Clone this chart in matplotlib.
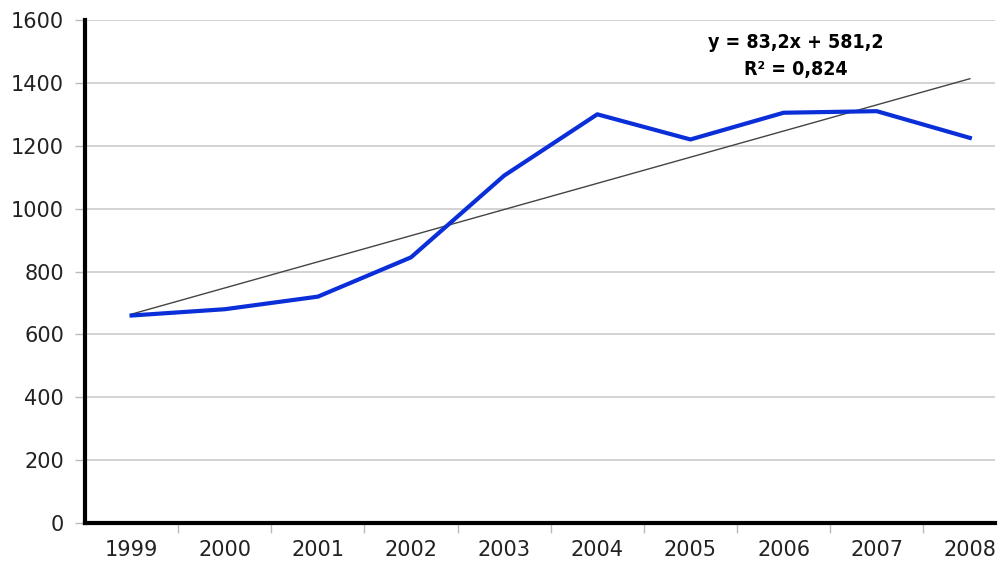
import matplotlib.pyplot as plt
import numpy as np

years = ["1999", "2000", "2001", "2002", "2003", "2004", "2005", "2006", "2007", "2008"]
values = [660, 680, 720, 845, 1105, 1300, 1220, 1305, 1310, 1225]
y_ticks = [0, 200, 400, 600, 800, 1000, 1200, 1400, 1600]
slope = 83.2
intercept = 581.2

fig = plt.figure(figsize=(10.07, 5.78), dpi=100)
ax = fig.add_axes([85 / 1007, 55 / 578, 910 / 1007, 503 / 578])

x = np.arange(len(years))
trend = slope * (x + 1) + intercept

ax.plot(x, trend, color="#444444", linewidth=1.0, zorder=2)
ax.plot(x, values, color="#0a2fd8", linewidth=3.0, zorder=3)

ax.set_xlim(-0.5, 9.27)
ax.set_ylim(0, 1600)
ax.set_yticks(y_ticks)
ax.set_yticklabels([str(v) for v in y_ticks], fontsize=15, color="#222222")
ax.yaxis.grid(True, color="#cccccc", linewidth=1.2)
ax.set_axisbelow(True)

ax.set_xticks(x)
ax.set_xticklabels(years, fontsize=15, color="#222222")
ax.tick_params(axis="x", length=0, pad=12)
ax.set_xticks(np.arange(0.5, 9, 1), minor=True)
ax.tick_params(axis="x", which="minor", length=7, color="#bbbbbb", width=1, direction="out")
ax.tick_params(axis="y", length=7, width=1, color="#bbbbbb", pad=8)

for side in ["top", "right"]:
    ax.spines[side].set_visible(False)
for side in ["left", "bottom"]:
    ax.spines[side].set_linewidth(3)
    ax.spines[side].set_color("black")

# trend line equation (condensed bold, like Calibri)
ax.text(7.13, 1530, "y = 83,2x + 581,2", ha="center", va="center",
        fontsize=14, fontweight="bold", fontstretch="condensed", family="DejaVu Sans")
ax.text(7.13, 1441, "R² = 0,824", ha="center", va="center",
        fontsize=14, fontweight="bold", fontstretch="condensed", family="DejaVu Sans")

fig.savefig("out.png", dpi=100)
